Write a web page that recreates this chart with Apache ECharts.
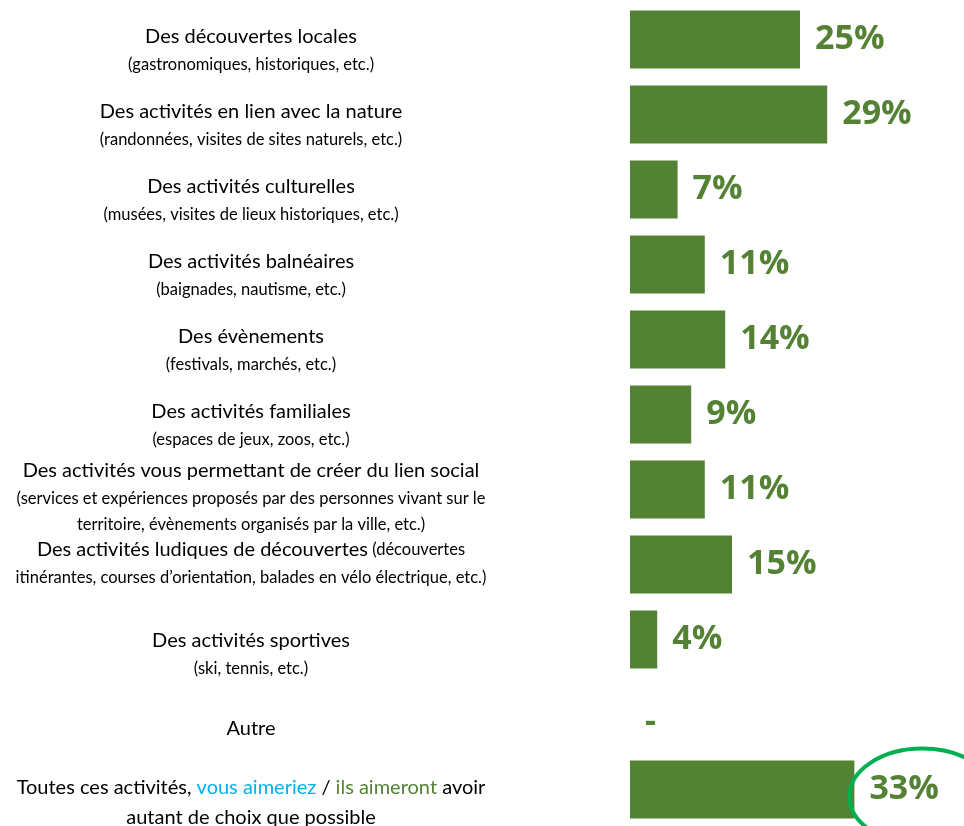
<!DOCTYPE html>
<html>
<head>
<meta charset="utf-8">
<script src="https://cdn.jsdelivr.net/npm/echarts@6/dist/echarts.min.js"></script>
<style>
  html, body { margin: 0; padding: 0; background: #fff; }
  #chart { width: 964px; height: 826px; }
</style>
</head>
<body>
<div id="chart"></div>
<script>
// activités -- titre, précision, valeur (%)
const titles = [
  "Des découvertes locales",
  "Des activités en lien avec la nature",
  "Des activités culturelles",
  "Des activités balnéaires",
  "Des évènements",
  "Des activités familiales",
  "Des activités vous permettant de créer du lien social",
  "Des activités ludiques de découvertes",
  "Des activités sportives",
  "Autre",
  "Toutes ces activités, vous aimeriez / ils aimeront avoir\nautant de choix que possible"
];
const details = [
  "(gastronomiques, historiques, etc.)",
  "(randonnées, visites de sites naturels, etc.)",
  "(musées, visites de lieux historiques, etc.)",
  "(baignades, nautisme, etc.)",
  "(festivals, marchés, etc.)",
  "(espaces de jeux, zoos, etc.)",
  "(services et expériences proposés par des personnes vivant sur le\nterritoire, évènements organisés par la ville, etc.)",
  "(découvertes\nitinérantes, courses d’orientation, balades en vélo électrique, etc.)",
  "(ski, tennis, etc.)",
  "",
  ""
];
const values = [25, 29, 7, 11, 14, 9, 11, 15, 4, null, 33];

// mots colorés dans la dernière ligne
const highlights = [["vous aimeriez", "blue"], ["ils aimeront", "green"]];
const detailOnTitleLine = ["Des activités ludiques de découvertes"];
// décalage vertical des libellés (px)
const labelShift = [10, 10, 10, 10, 10, 10, 7, -2, 14, 14, 13];

const GREEN = "#548235";

function titleLine(txt) {
  let out = "{t|" + txt + "}";
  highlights.forEach(function (h) {
    out = out.replace(h[0], "}{" + h[1] + "|" + h[0] + "}{t|");
  });
  return out;
}

function richLabel(i) {
  const tLines = titles[i].split("\n");
  const dLines = details[i] ? details[i].split("\n") : [];
  const lines = tLines.map(titleLine);
  if (dLines.length && detailOnTitleLine.indexOf(titles[i]) >= 0) {
    lines[lines.length - 1] += "{s| " + dLines.shift() + "}";
  }
  dLines.forEach(function (d) { lines.push("{s|" + d + "}"); });
  return lines.join("\n");
}

const chart = echarts.init(document.getElementById("chart"));

const option = {
  animation: false,
  grid: { left: 630, top: 2, width: 340, height: 825, containLabel: false, outerBoundsMode: "none" },
  xAxis: {
    type: "value",
    min: 0,
    max: 50,
    show: false
  },
  yAxis: {
    type: "category",
    inverse: true,
    data: titles.map(function (t, i) {
      const s = labelShift[i];
      return {
        value: t,
        textStyle: {
          align: "center",
          verticalAlign: "middle",
          padding: s >= 0 ? [2 * s, 0, 0, 0] : [0, 0, -2 * s, 0]
        }
      };
    }),
    axisLine: { show: false },
    axisTick: { show: false },
    splitLine: { show: false },
    axisLabel: {
      interval: 0,
      margin: 379,
      align: "center",
      formatter: function (v, i) { return richLabel(i); },
      rich: {
        t: { fontFamily: "Lato", fontSize: 20, color: "#000", lineHeight: 30, align: "center" },
        blue: { fontFamily: "Lato", fontSize: 20, color: "#00B0F0", lineHeight: 30 },
        green: { fontFamily: "Lato", fontSize: 20, color: GREEN, lineHeight: 30 },
        s: { fontFamily: "Lato", fontSize: 16.5, color: "#000", lineHeight: 26, align: "center" }
      }
    }
  },
  series: [
    {
      type: "bar",
      barWidth: 58,
      itemStyle: { color: GREEN },
      label: {
        show: true,
        position: "right",
        distance: 15,
        fontFamily: "Open Sans",
        fontWeight: "bold",
        fontSize: 34,
        color: GREEN,
        formatter: function (p) {
          return values[p.dataIndex] == null ? "-" : values[p.dataIndex] + "%";
        }
      },
      data: values.map(function (v) {
        return v == null ? { value: 0, label: { offset: [0, 8] } } : v;
      })
    }
  ]
};

chart.setOption(option);

// ellipse autour du dernier libellé
const last = values.length - 1;
const pt = chart.convertToPixel({ gridIndex: 0 }, [values[last], last]);
chart.setOption({
  graphic: [{
    type: "ellipse",
    shape: { cx: pt[0] + 68, cy: pt[1] + 7, rx: 73, ry: 48 },
    style: { fill: "none", stroke: "#00B050", lineWidth: 4 },
    z: 10
  }]
});
</script>
</body>
</html>
